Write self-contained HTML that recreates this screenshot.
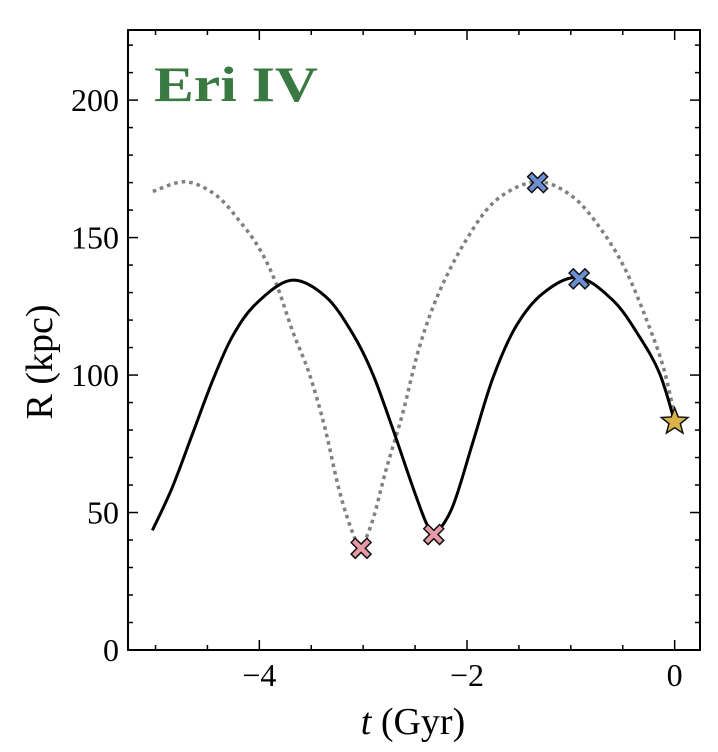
<!DOCTYPE html>
<html><head><meta charset="utf-8"><style>
body{margin:0;background:#fff}
svg{display:block;font-family:"Liberation Serif",serif}
</style></head><body>
<svg id="chart" width="718" height="752"></svg>
<script>
const solidT=[-5.03,-4.84,-4.64,-4.45,-4.26,-4.03,-3.69,-3.36,-3.10,-2.91,-2.72,-2.52,-2.39,-2.31,-2.14,-1.94,-1.75,-1.53,-1.27,-0.93,-0.59,-0.34,-0.145,0];
const solidR=[43.5,59,79,98,114,126,134.5,128.5,115,100.6,81,59,46,42.5,52,76,99,117.6,129.7,135.5,127,114,100.6,83];
const dotT=[-5.01,-4.71,-4.42,-4.19,-4.0,-3.84,-3.68,-3.52,-3.37,-3.23,-3.10,-3.02,-2.91,-2.78,-2.62,-2.46,-2.27,-2.01,-1.72,-1.33,-0.98,-0.69,-0.47,-0.27,-0.11,0];
const dotR=[167,170.3,165.5,156,146,133.5,116,100.6,81,58,42.5,38,47,65.5,86,110,130,149,163.6,170.3,164.8,152,138,120,103,85];
const periT=[-3.02,-2.32];
const periR=[37,42];
const apoT=[-1.32,-0.92];
const apoR=[170,135];
const nowT=[0];
const nowR=[83];
const xTicks=[-4,-2,0];
const xTickLabels=["\u22124","\u22122","0"];
const yTicks=[0,50,100,150,200];

const NS="http://www.w3.org/2000/svg";
const svg=document.getElementById('chart');
const L=128,R=700,T=30,B=650;
const xMin=-5.265,xMax=0.244,yMin=0,yMax=225.5;
const X=t=>L+(t-xMin)/(xMax-xMin)*(R-L);
const Y=v=>B-(v-yMin)/(yMax-yMin)*(B-T);
function mk(tag,attrs,parent){const e=document.createElementNS(NS,tag);for(const k in attrs)e.setAttribute(k,attrs[k]);(parent||svg).appendChild(e);return e;}
function spline(ts,rs){
  const p=ts.map((t,i)=>[X(t),Y(rs[i])]);
  let d=`M${p[0][0]},${p[0][1]}`;
  for(let i=0;i<p.length-1;i++){
    const p0=p[Math.max(0,i-1)],p1=p[i],p2=p[i+1],p3=p[Math.min(p.length-1,i+2)];
    const c1=[p1[0]+(p2[0]-p0[0])/6,p1[1]+(p2[1]-p0[1])/6];
    const c2=[p2[0]-(p3[0]-p1[0])/6,p2[1]-(p3[1]-p1[1])/6];
    d+=`C${c1[0]},${c1[1]} ${c2[0]},${c2[1]} ${p2[0]},${p2[1]}`;
  }
  return d;
}
for(let t=-5;t<=0.001;t+=0.5){
  const major=xTicks.some(v=>Math.abs(v-t)<1e-6);const len=major?10:5;
  const a=mk('line',{x1:X(t),x2:X(t),y1:B,y2:B-len,stroke:'#000','stroke-width':1.5});
  
  const b=mk('line',{x1:X(t),x2:X(t),y1:T,y2:T+len,stroke:'#000','stroke-width':1.5});
  
}
for(let v=0;v<=220;v+=10){
  const major=yTicks.includes(v);const len=major?10:5;
  const a=mk('line',{x1:L,x2:L+len,y1:Y(v),y2:Y(v),stroke:'#000','stroke-width':1.5});
  
  const b=mk('line',{x1:R,x2:R-len,y1:Y(v),y2:Y(v),stroke:'#000','stroke-width':1.5});
  
}
xTicks.forEach((t,i)=>{const e=mk('text',{x:X(t),y:686,'text-anchor':'middle','font-size':32});e.textContent=xTickLabels[i];
  });
yTicks.forEach(v=>{const e=mk('text',{x:119,y:Y(v)+11,'text-anchor':'end','font-size':32});e.textContent=v;
  });
const dp=mk('path',{d:spline(dotT,dotR),fill:'none',stroke:'#808080','stroke-width':3.5,'stroke-dasharray':'0.1 7.5','stroke-linecap':'square'});

const sp=mk('path',{d:spline(solidT,solidR),fill:'none',stroke:'#000','stroke-width':3});

function cross(t,v,color,name){
  const x=X(t),y=Y(v),a=4.2,b=10;
  const pts=[[0,-a],[b-a,-b],[b,-b+a],[a,0],[b,b-a],[b-a,b],[0,a],[-b+a,b],[-b,b-a],[-a,0],[-b,-b+a],[-b+a,-b]].map(p=>(x+p[0])+','+(y+p[1])).join(' ');
  const e=mk('polygon',{points:pts,fill:color,stroke:'#111','stroke-width':1.5});
  
}
periT.forEach((t,i)=>cross(t,periR[i],'#e59aa5','pericenter-marker'));
apoT.forEach((t,i)=>cross(t,apoR[i],'#6b8fd1','apocenter-marker'));
nowT.forEach((t,i)=>{
  const x=X(t),y=Y(nowR[i]);let pts=[];
  for(let k=0;k<10;k++){const r=k%2?6:14,ang=-Math.PI/2+k*Math.PI/5;pts.push((x+r*Math.cos(ang))+','+(y+r*Math.sin(ang)));}
  const e=mk('polygon',{points:pts.join(' '),fill:'#d9b24a',stroke:'#111','stroke-width':1.5});
  
});
const fr=mk('rect',{x:L,y:T,width:R-L,height:B-T,fill:'none',stroke:'#000','stroke-width':2});

const ti=mk('text',{x:154,y:101,'font-size':50,'font-weight':'bold',fill:'#3a7a42',textLength:164,lengthAdjust:'spacingAndGlyphs'});ti.textContent='Eri IV';

const xl=mk('text',{x:413,y:734,'text-anchor':'middle','font-size':38});xl.innerHTML='<tspan font-style="italic">t</tspan> (Gyr)';

const yl=mk('text',{x:0,y:0,'text-anchor':'middle','font-size':38,transform:'translate(52,362) rotate(-90)'});yl.textContent='R (kpc)';

</script>
</body></html>
